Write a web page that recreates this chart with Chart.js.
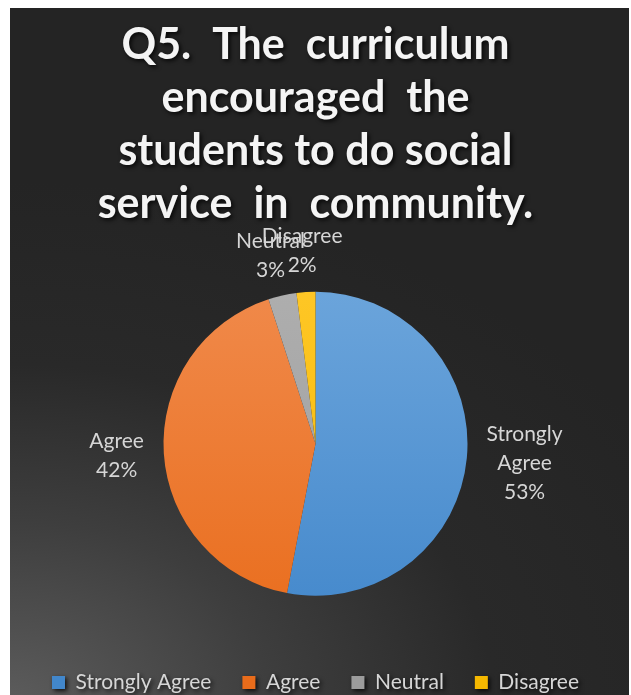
<!DOCTYPE html>
<html>
<head>
<meta charset="utf-8">
<script src="https://cdn.jsdelivr.net/npm/chart.js@4.4.1/dist/chart.umd.min.js"></script>
<style>
  html, body { margin: 0; padding: 0; background: #ffffff; overflow: hidden; }
  #frame {
    position: absolute; left: 10px; top: 8px; width: 619px; height: 695px;
    background: radial-gradient(ellipse 120% 75% at 0% 100%, #5c5c5c 0%, #3e3e3e 35%, #292929 65%, #242424 100%);
  }
</style>
</head>
<body>
<div id="frame"><canvas id="pie"></canvas></div>
<script>
// Data

const categories = ["Strongly Agree", "Agree", "Neutral", "Disagree"];
const shares = [53, 42, 3, 2];
const labelLines = [["Strongly", "Agree"], ["Agree"], ["Neutral"], ["Disagree"]];
const titleLines = ["Q5.  The  curriculum", "encouraged  the", "students to do social", "service  in  community."];

const topColors = ["#70a8dd", "#f18d50", "#b0b0b0", "#ffc82a"];
const bottomColors = ["#4287cb", "#e96c1b", "#9c9c9c", "#f5b800"];

// gradient fill per slice, top to bottom of the pie
function sliceFill(ctx) {
  const area = ctx.chart.chartArea;
  const i = ctx.dataIndex;
  if (!area) return bottomColors[i];
  const g = ctx.chart.ctx.createLinearGradient(0, area.top, 0, area.bottom);
  g.addColorStop(0, topColors[i]);
  g.addColorStop(1, bottomColors[i]);
  return g;
}

// outside labels like the office chart
const outsideLabels = {
  id: "outsideLabels",
  afterDatasetsDraw(chart) {
    const ctx = chart.ctx;
    const meta = chart.getDatasetMeta(0);
    ctx.save();
    ctx.font = "21px Lato";
    ctx.fillStyle = "#d6d6d6";
    ctx.textAlign = "center";
    ctx.textBaseline = "middle";
    const lineH = 29;
    meta.data.forEach((arc, i) => {
      const p = arc.getProps(["x", "y", "startAngle", "endAngle", "outerRadius"], true);
      const mid = (p.startAngle + p.endAngle) / 2;
      const dx = Math.cos(mid), dy = Math.sin(mid);
      const lines = labelLines[i].concat([shares[i] + "%"]);
      let w = 0;
      lines.forEach(l => { w = Math.max(w, ctx.measureText(l).width); });
      const h = lines.length * lineH;
      const ax = p.x + (p.outerRadius + 20) * dx;
      const ay = p.y + (p.outerRadius + 12) * dy;
      const cx = ax + dx * w / 2;
      const cy = ay + dy * h / 2;
      lines.forEach((l, k) => {
        ctx.fillText(l, cx, cy - h / 2 + lineH * (k + 0.5));
      });
    });
    ctx.restore();
  }
};

// soft shadow behind the title text
const titleShadow = {
  id: "titleShadow",
  beforeDraw(chart) {
    const ctx = chart.ctx;
    ctx.save();
    ctx.shadowColor = "rgba(0,0,0,0.8)";
    ctx.shadowBlur = 4;
    ctx.shadowOffsetX = 2;
    ctx.shadowOffsetY = 2;
  },
  beforeDatasetsDraw(chart) {
    chart.ctx.restore();
  }
};

const pie = document.getElementById("pie");

new Chart(pie, {
  type: "pie",
  data: {
    labels: categories,
    datasets: [
      {
        data: shares,
        backgroundColor: sliceFill,
        borderWidth: 0,
        radius: 152,
      },
    ],
  },
  options: {
    responsive: true,
    maintainAspectRatio: false,
    animation: false,
    layout: {
      padding: { top: 0, bottom: 0, left: 0, right: 8 },
    },
    plugins: {
      title: {
        display: true,
        text: titleLines,
        color: "#f4f4f4",
        font: { family: "Lato", size: 43, weight: "bold", lineHeight: 1.23 },
        padding: { top: 11, bottom: 16 },
      },
      legend: {
        position: "bottom",
        labels: {
          color: "#d6d6d6",
          font: { family: "Lato", size: 21 },
          boxWidth: 13,
          boxHeight: 13,
          padding: 31,
          generateLabels(chart) {
            return categories.map((c, i) => ({
              text: c,
              fillStyle: bottomColors[i],
              strokeStyle: bottomColors[i],
              lineWidth: 0,
              fontColor: "#d6d6d6",
              index: i,
            }));
          },
        },
      },
      tooltip: { enabled: false },
    },
  },
  plugins: [titleShadow, outsideLabels],
});
</script>
</body>
</html>
